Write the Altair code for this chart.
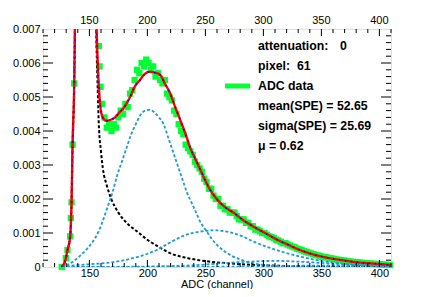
import altair as alt
import pandas as pd

# ---------------- data ----------------
X_DOMAIN = [110, 410]
Y_DOMAIN = [0, 0.007]

X_MAJOR = [150, 200, 250, 300, 350, 400]
X_MINOR = [110, 120, 130, 140, 160, 170, 180, 190, 210, 220, 230, 240, 260, 270, 280, 290,
           310, 320, 330, 340, 360, 370, 380, 390, 410]
Y_MAJOR = [0.001, 0.002, 0.003, 0.004, 0.005, 0.006]
Y_MINOR = [0.0002, 0.0004, 0.0006, 0.0008, 0.0012, 0.0014, 0.0016, 0.0018,
           0.0022, 0.0024, 0.0026, 0.0028, 0.0032, 0.0034, 0.0036, 0.0038,
           0.0042, 0.0044, 0.0046, 0.0048, 0.0052, 0.0054, 0.0056, 0.0058,
           0.0062, 0.0064, 0.0066, 0.0068]
Y_LABELS = [0, 0.001, 0.002, 0.003, 0.004, 0.005, 0.006, 0.007]

# measured histogram (ADC data)
DATA_X = [126.2, 129.7, 131.1, 133.4, 134.0, 134.6, 135.5, 136.9, 158.1, 158.7, 159.6, 161.0,
          163, 165, 167, 169, 171, 173, 175, 177, 179, 181, 183, 185, 187, 189, 191, 193,
          195, 197, 199, 201, 203, 205, 207, 209, 211, 213, 215, 217, 219, 221, 223, 225,
          227, 229, 231, 233, 235, 237, 239, 241, 243, 245, 247, 249, 251, 253, 255, 257,
          259, 261, 263, 265, 267, 269, 271, 273, 275, 277, 279, 281, 283, 285, 287, 289,
          291, 293, 295, 297, 299, 301, 303, 305, 307, 309, 311, 313, 315, 317, 319, 321,
          323, 325, 327, 329, 331, 333, 335, 337, 339, 341, 343, 345, 347, 349, 351, 353,
          355, 357, 359, 361, 363, 365, 367, 369, 371, 373, 375, 377, 379, 381, 383, 385,
          387, 389, 391, 393, 395, 397, 399, 401, 403, 405, 407, 409]
DATA_Y = [0.0, 0.00026, 0.0005, 0.0009, 0.00144, 0.0019, 0.0036, 0.0054, 0.0065, 0.0059, 0.0053, 0.0048,
          0.0044, 0.0041, 0.0042, 0.0040, 0.0042, 0.0041, 0.0044, 0.0046, 0.0045, 0.0048, 0.0047, 0.0051,
          0.0052, 0.0055, 0.0058, 0.0057, 0.0060, 0.0059, 0.0061, 0.0060, 0.0058, 0.0059, 0.0056, 0.0057,
          0.0055, 0.0054, 0.0055, 0.0051, 0.0050, 0.0049, 0.0046, 0.0045, 0.0042, 0.0040, 0.0039, 0.0036,
          0.0035, 0.0034, 0.0033, 0.0031, 0.0030, 0.0029, 0.0028, 0.0026, 0.0025, 0.0023, 0.0023, 0.0021,
          0.0020, 0.0020, 0.0018, 0.0018, 0.0017, 0.0017, 0.0016, 0.0016, 0.0016, 0.0015, 0.0014, 0.0014,
          0.0014, 0.0013, 0.0013, 0.0012, 0.0012, 0.0011, 0.0011, 0.00105, 0.0010, 0.0010, 0.00095, 0.0009,
          0.00088, 0.00085, 0.0008, 0.00078, 0.00074, 0.0007, 0.0007, 0.00066, 0.00063, 0.0006, 0.00058, 0.00054,
          0.00052, 0.0005, 0.00046, 0.00045, 0.00042, 0.0004, 0.00038, 0.00036, 0.00034, 0.00032, 0.0003, 0.00029,
          0.00028, 0.00026, 0.00025, 0.00024, 0.00022, 0.00021, 0.0002, 0.00019, 0.00018, 0.00017, 0.00016, 0.00015,
          0.00014, 0.00014, 0.00013, 0.00012, 0.00012, 0.00011, 0.0001, 0.0001, 0.00009, 0.00009, 0.00008, 0.00008,
          0.00007, 0.00007, 0.00006, 0.00006]

# total fit
FIT_X = [126, 129.7, 131.1, 133.4, 134.6, 135.5, 136.9, 137.5, 140, 146, 151, 156.2, 157.2, 158.7,
         160.2, 162, 164.5, 167.4, 172, 176, 180, 185, 189, 193.6, 197, 201.4, 206, 211, 215,
         219.7, 224, 228.4, 233, 237, 241, 245.8, 252, 260, 267, 275, 282, 289, 296, 303, 312,
         321, 328, 340, 354, 368, 383, 395, 410]
FIT_Y = [0.0, 0.00026, 0.0005, 0.0009, 0.0019, 0.0036, 0.0054, 0.0070, 0.02, 0.035, 0.02, 0.0070,
         0.0060, 0.0050, 0.00455, 0.00437, 0.0043, 0.00432, 0.0044, 0.00455, 0.0047, 0.0050, 0.0053,
         0.0055, 0.00565, 0.00574, 0.00572, 0.00565, 0.0054, 0.0051, 0.0047, 0.00432, 0.0039, 0.0035,
         0.0032, 0.00285, 0.0024, 0.00199, 0.00176, 0.00158, 0.00139, 0.00124, 0.0011, 0.00097, 0.0008,
         0.00066, 0.00055, 0.0004, 0.00028, 0.0002, 0.00013, 0.0001, 0.00006]

# pedestal component
PED_X = [126, 129.7, 131.1, 133.4, 134.6, 135.5, 136.9, 137.5, 140, 146, 151, 155.8, 157.2, 158.1,
         160, 161.6, 165, 168.9, 175, 182, 191, 200, 208, 220, 235, 253, 273, 300, 340, 410]
PED_Y = [0.0, 0.00026, 0.0005, 0.0009, 0.0019, 0.0036, 0.0054, 0.0070, 0.02, 0.035, 0.02, 0.0070,
         0.0052, 0.0042, 0.0034, 0.0029, 0.0024, 0.0020, 0.0016, 0.0013, 0.00105, 0.0008, 0.00063,
         0.0004, 0.00026, 0.00016, 0.0001, 0.00005, 0.00002, 0.00001]

# 1 p.e. component
PE1_X = [126, 130, 135, 141, 147, 153, 158, 162, 166, 170, 174, 178, 182, 186, 190, 194, 198,
         202, 206, 210, 214, 218, 222, 226, 230, 234, 238, 242, 246, 250, 255, 260, 265, 270,
         280, 290, 300, 315, 330, 360, 410]
PE1_Y = [0.0, 0.00005, 0.00014, 0.0003, 0.0005, 0.00075, 0.00105, 0.0014, 0.0018, 0.0022, 0.0027,
         0.0031, 0.0035, 0.0039, 0.0042, 0.00447, 0.0046, 0.00462, 0.00455, 0.0044, 0.0042, 0.0038,
         0.0034, 0.0030, 0.0026, 0.0022, 0.0019, 0.0016, 0.0013, 0.0011, 0.00085, 0.00065, 0.0005,
         0.00038, 0.00022, 0.00012, 0.00006, 0.00002, 0.00001, 0.0, 0.0]

# 2 p.e. component
PE2_X = [126, 141, 158, 165, 180, 194, 208, 220, 232, 245, 258, 270, 282, 290, 305, 321, 335, 350,
         365, 380, 395, 410]
PE2_Y = [0.00002, 0.00006, 0.0001, 0.00012, 0.0002, 0.00032, 0.0005, 0.00073, 0.00093, 0.00104,
         0.00108, 0.00103, 0.0009, 0.00077, 0.00057, 0.0004, 0.00028, 0.00018, 0.00011, 0.00006,
         0.00004, 0.00002]

# 3 p.e. component
PE3_X = [126, 180, 210, 240, 260, 285, 310, 335, 360, 385, 410]
PE3_Y = [0.0, 0.000005, 0.00002, 0.00005, 0.0001, 0.00015, 0.00018, 0.00015, 0.0001, 0.00006, 0.00003]

# 4 p.e. component
PE4_X = [126, 250, 300, 340, 365, 390, 410]
PE4_Y = [0.0, 0.000005, 0.00002, 0.00004, 0.000045, 0.00004, 0.00003]

LEGEND_LINES = ["attenuation:", "0", "pixel:\u00a0\u00a061", "ADC data",
                "mean(SPE) = 52.65", "sigma(SPE) = 25.69", "\u03bc = 0.62"]

# ---------------- chart ----------------
W, H = 348, 238
FONT = "Liberation Sans"
GREEN = "#00ff33"
CYAN = "#1f9ad6"

xs = alt.Scale(domain=X_DOMAIN, nice=False, zero=False)
ys = alt.Scale(domain=Y_DOMAIN, nice=False, zero=False)

x_axis = alt.Axis(values=X_MAJOR, ticks=False, domain=False, grid=False, labelPadding=0,
                  labelFont=FONT, labelFontSize=11, labelColor="black", labelFlush=False,
                  labelOverlap=False, title=None)
y_axis = alt.Axis(values=Y_LABELS, ticks=False, domain=False, grid=False, labelPadding=3,
                  labelFont=FONT, labelFontSize=11, labelColor="black", labelFlush=False,
                  labelOverlap=False, title=None,
                  labelExpr="datum.value == 0 ? '0' : format(datum.value, '.3f')")


def X(field):
    return alt.X(field, scale=xs, axis=x_axis)


def Y(field):
    return alt.Y(field, scale=ys, axis=y_axis)


data_df = pd.DataFrame({"adc": DATA_X, "val": DATA_Y})
points = alt.Chart(data_df).mark_square(size=40, color=GREEN, opacity=1).encode(
    x=X("adc:Q"), y=Y("val:Q"))


def curve(xv, yv, color, width, dash):
    df = pd.DataFrame({"adc": xv, "val": yv})
    return alt.Chart(df).mark_line(color=color, strokeWidth=width, strokeDash=dash,
                                   interpolate="monotone", clip=True).encode(
        x=X("adc:Q"), y=Y("val:Q"))


ped = curve(PED_X, PED_Y, "black", 2, [3, 2])
pe1 = curve(PE1_X, PE1_Y, CYAN, 1.8, [3, 2])
pe2 = curve(PE2_X, PE2_Y, CYAN, 1.8, [3, 2])
pe3 = curve(PE3_X, PE3_Y, CYAN, 1.8, [3, 2])
pe4 = curve(PE4_X, PE4_Y, CYAN, 1.8, [3, 2])
fit = curve(FIT_X, FIT_Y, "#ff0000", 2.4, [1, 0])
fit_b = curve(FIT_X, FIT_Y, "#0000ff", 1.4, [1.5, 4.5])

# inward tick marks
ymaj = pd.DataFrame({"v": Y_MAJOR})
ymin = pd.DataFrame({"v": Y_MINOR})
xmaj = pd.DataFrame({"v": X_MAJOR})
xmin = pd.DataFrame({"v": X_MINOR})


def yticks(df, length):
    left = alt.Chart(df).mark_rule(color="black", strokeWidth=1).encode(
        y=Y("v:Q"), x=alt.value(0), x2=alt.value(length))
    right = alt.Chart(df).mark_rule(color="black", strokeWidth=1).encode(
        y=Y("v:Q"), x=alt.value(W), x2=alt.value(W - length))
    return [left, right]


def xticks(df, length):
    bottom = alt.Chart(df).mark_rule(color="black", strokeWidth=1).encode(
        x=X("v:Q"), y=alt.value(H), y2=alt.value(H - length))
    top = alt.Chart(df).mark_rule(color="black", strokeWidth=1).encode(
        x=X("v:Q"), y=alt.value(0), y2=alt.value(length))
    return [bottom, top]


tick_layers = yticks(ymaj, 10) + yticks(ymin, 5) + xticks(xmaj, 7) + xticks(xmin, 4)

# top axis labels
top_labels = alt.Chart(pd.DataFrame({"v": X_MAJOR, "t": [str(v) for v in X_MAJOR]})).mark_text(
    font=FONT, fontSize=11, color="black", baseline="middle", align="center").encode(
    x=X("v:Q"), y=alt.value(-8), text="t:N")

# x-axis title as text placed below the plot
x_title = alt.Chart(pd.DataFrame({"t": ["ADC (channel)"]})).mark_text(
    font=FONT, fontSize=11, color="black", baseline="alphabetic", align="center").encode(
    x=alt.value(W / 2), y=alt.value(H + 21), text="t:N")

# legend block
leg_pos_x = [215, 297, 215, 215, 215, 215, 215]
leg_pos_y = [17, 17, 37, 57, 77, 97, 117]
legend_layers = []
for txt, px, py in zip(LEGEND_LINES, leg_pos_x, leg_pos_y):
    legend_layers.append(
        alt.Chart(pd.DataFrame({"t": [txt]})).mark_text(
            font=FONT, fontSize=12.3, fontWeight="bold", color="black",
            align="left", baseline="middle").encode(
            x=alt.value(px), y=alt.value(py), text="t:N"))
legend_sym = alt.Chart(pd.DataFrame({"k": [0]})).mark_rule(color=GREEN, strokeWidth=5).encode(
    x=alt.value(182), x2=alt.value(207), y=alt.value(57))

chart = alt.layer(
    points, ped, pe1, pe2, pe3, pe4, fit, fit_b, *tick_layers, top_labels, x_title,
    *legend_layers, legend_sym
).properties(
    width=W, height=H,
    autosize=alt.AutoSizeParams(type="none"),
    padding={"left": 35, "top": 21, "right": 37, "bottom": 22},
).configure_view(stroke="black", strokeWidth=1).configure(background="white")

chart.save("out.html", embed_options={"renderer": "svg", "actions": False})
